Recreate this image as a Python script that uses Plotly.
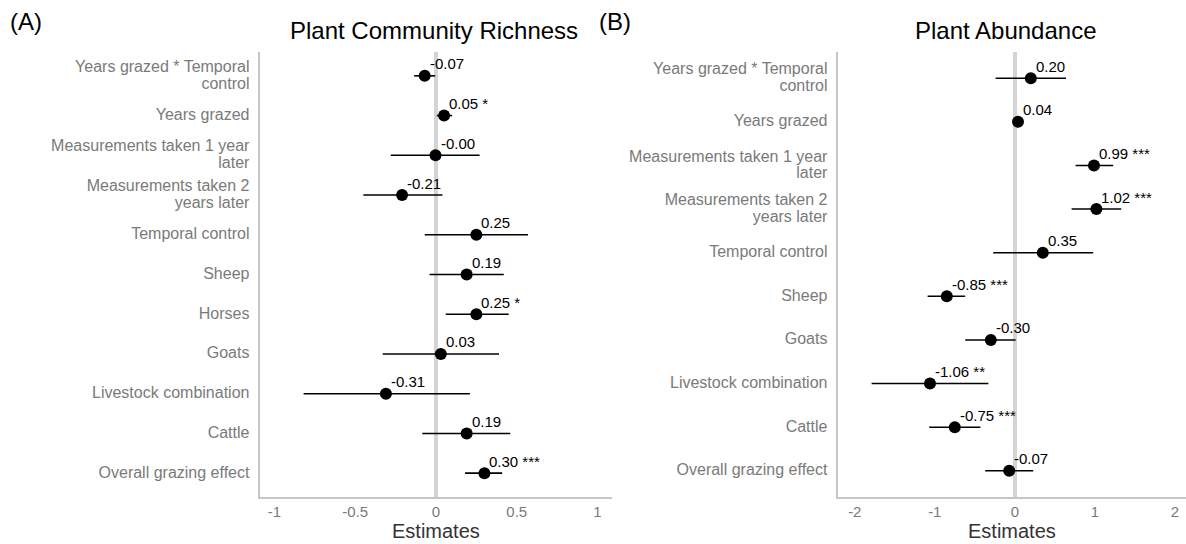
import plotly.graph_objects as go

# ---- data -------------------------------------------------------------
terms_a = [
    "Years grazed * Temporal<br>control",
    "Years grazed",
    "Measurements taken 1 year<br>later",
    "Measurements taken 2<br>years later",
    "Temporal control",
    "Sheep",
    "Horses",
    "Goats",
    "Livestock combination",
    "Cattle",
    "Overall grazing effect",
]
est_a = [-0.07, 0.05, -0.003, -0.21, 0.25, 0.19, 0.25, 0.03, -0.31, 0.19, 0.30]
lo_a = [-0.135, 0.005, -0.28, -0.45, -0.07, -0.04, 0.06, -0.33, -0.82, -0.085, 0.18]
hi_a = [-0.005, 0.10, 0.27, 0.04, 0.57, 0.42, 0.45, 0.39, 0.21, 0.46, 0.41]
sig_a = ["", "*", "", "", "", "", "*", "", "", "", "***"]

terms_b = [
    "Years grazed * Temporal<br>control",
    "Years grazed",
    "Measurements taken 1 year<br>later",
    "Measurements taken 2<br>years later",
    "Temporal control",
    "Sheep",
    "Goats",
    "Livestock combination",
    "Cattle",
    "Overall grazing effect",
]
est_b = [0.20, 0.04, 0.99, 1.02, 0.35, -0.85, -0.30, -1.06, -0.75, -0.07]
lo_b = [-0.24, -0.02, 0.76, 0.71, -0.27, -1.09, -0.62, -1.79, -1.07, -0.37]
hi_b = [0.64, 0.10, 1.23, 1.33, 0.98, -0.62, 0.01, -0.33, -0.43, 0.23]
sig_b = ["", "", "***", "***", "", "***", "", "**", "***", ""]

x_ticks_a = [-1, -0.5, 0, 0.5, 1]
x_tick_text_a = ["-1", "-0.5", "0", "0.5", "1"]
x_ticks_b = [-2, -1, 0, 1, 2]
x_tick_text_b = ["-2", "-1", "0", "1", "2"]

FONT = "Liberation Sans, Arial, sans-serif"
GREY_TXT = "#7a7a7a"
AXIS_GREY = "#c6c6c6"

DOM_A = [260 / 1186, 612 / 1186]
DOM_B = [838 / 1186, 1.0]


def styled(label, px=16):
    """Render every line of a term label at `px`, keeping the tighter
    line pitch of the smaller base tick font."""
    return "<br>".join(f'<span style="font-size:{px}px">{part}</span>'
                       for part in label.split("<br>"))


fig = go.Figure()


def add_panel(terms, est, lo, hi, sig, xa, ya):
    fig.add_trace(go.Scatter(
        x=est, y=terms, mode="markers",
        xaxis=xa, yaxis=ya,
        marker=dict(color="black", size=12),
        error_x=dict(
            type="data", symmetric=False,
            array=[h - e for h, e in zip(hi, est)],
            arrayminus=[e - l for e, l in zip(est, lo)],
            color="black", thickness=1.6, width=0,
        ),
        showlegend=False, hoverinfo="skip",
    ))
    for e, t, s in zip(est, terms, sig):
        label = f"{e:.2f}" + (f" {s}" if s else "")
        fig.add_annotation(
            x=e, y=t, xref=xa, yref=ya, text=label, showarrow=False,
            xanchor="left", yanchor="middle", xshift=3, yshift=12,
            font=dict(family=FONT, size=15, color="black"),
        )


add_panel(terms_a, est_a, lo_a, hi_a, sig_a, "x", "y")
add_panel(terms_b, est_b, lo_b, hi_b, sig_b, "x2", "y2")

y_bottom, y_top = 1 - 497 / 544, 1 - 52 / 544

common_x = dict(
    showgrid=False, zeroline=True, zerolinecolor="#d4d4d4", zerolinewidth=4,
    showline=True, linecolor=AXIS_GREY, linewidth=2,
    ticks="", tickfont=dict(family=FONT, size=15, color=GREY_TXT),
    automargin=False,
)
common_y = dict(
    showgrid=False, zeroline=False,
    showline=True, linecolor=AXIS_GREY, linewidth=2,
    ticks="outside", ticklen=6, tickcolor="rgba(0,0,0,0)",
    tickfont=dict(family=FONT, size=12.8, color=GREY_TXT),
    automargin=False, type="category", categoryorder="array",
)

fig.update_layout(
    width=1186, height=544,
    margin=dict(l=0, r=0, t=0, b=0),
    paper_bgcolor="white", plot_bgcolor="white",
    xaxis=dict(common_x, domain=DOM_A, range=[-1.09, 1.09],
               tickvals=x_ticks_a, ticktext=x_tick_text_a, anchor="y"),
    yaxis=dict(common_y, domain=[y_bottom, y_top], anchor="x",
               categoryarray=terms_a[::-1], range=[-0.6, len(terms_a) - 0.4],
               tickvals=terms_a, ticktext=[styled(t) for t in terms_a]),
    xaxis2=dict(common_x, domain=DOM_B, range=[-2.21, 2.14],
                tickvals=x_ticks_b, ticktext=x_tick_text_b, anchor="y2"),
    yaxis2=dict(common_y, domain=[y_bottom, y_top], anchor="x2",
                categoryarray=terms_b[::-1], range=[-0.6, len(terms_b) - 0.4],
                tickvals=terms_b, ticktext=[styled(t) for t in terms_b]),
)

# x-axis titles, centred under each panel
for dom in (DOM_A, DOM_B):
    fig.add_annotation(text="Estimates", x=(dom[0] + dom[1]) / 2, y=1 - 531 / 544,
                       xref="paper", yref="paper", showarrow=False,
                       xanchor="center", yanchor="middle",
                       font=dict(family=FONT, size=20, color="#333333"))

# panel titles and tags
for txt, x in [("Plant Community Richness", 434 / 1186), ("Plant Abundance", 1006 / 1186)]:
    fig.add_annotation(text=txt, x=x, y=1 - 30 / 544, xref="paper", yref="paper",
                       showarrow=False, xanchor="center", yanchor="middle",
                       font=dict(family=FONT, size=24, color="black"))
for txt, x in [("(A)", 8 / 1186), ("(B)", 597 / 1186)]:
    fig.add_annotation(text=txt, x=x, y=1 - 22 / 544, xref="paper", yref="paper",
                       showarrow=False, xanchor="left", yanchor="middle",
                       font=dict(family=FONT, size=24, color="black"))

fig.write_html("out.html")
